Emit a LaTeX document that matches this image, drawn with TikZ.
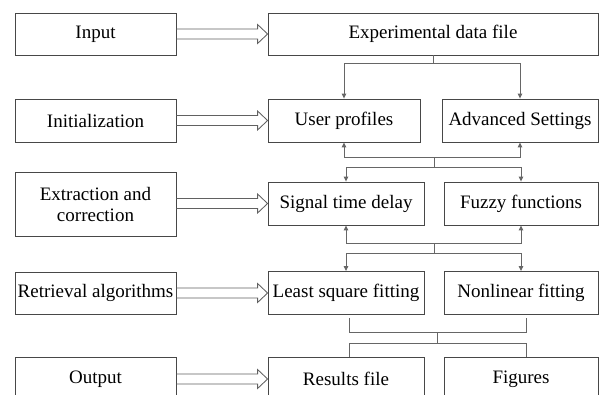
\documentclass[tikz,border=0pt]{standalone}
\usepackage{fontspec}
\setmainfont{Liberation Serif}
\usetikzlibrary{arrows.meta}
\tikzset{
  box/.style={draw=black!72,line width=0.85pt,inner sep=1pt,align=center,font=\fontsize{19}{21}\selectfont},
  dbl/.style={draw=black!62,line width=0.85pt,line join=miter},
  link/.style={draw=black!60,line width=0.9pt},
  tip/.style={link,-{Triangle[length=5pt,width=4.5pt]}}
}
\begin{document}
\begin{tikzpicture}[x=1pt,y=-1pt]
\useasboundingbox (0,0) rectangle (600,394);
\clip (0,0) rectangle (600,394);
% left column
\foreach \n/\y/\h/\t in {in/34/42/Input, ini/120.5/43/Initialization, ext/204/64/{Extraction and\\correction},
  ret/293/42/Retrieval algorithms, out/379/43/Output}{
  \node[box,minimum width=161pt,minimum height=\h pt] (\n) at (95.5,\y) {\t};
}
% right column
\node[box,minimum width=330pt,minimum height=42pt] (exp) at (433,34) {Experimental data file};
\foreach \n/\x/\y/\w/\t in {usr/344/120.5/152/User profiles, adv/520/120.5/156/Advanced Settings,
  sig/346/203.5/156/Signal time delay, fuz/521/203.5/154/Fuzzy functions,
  lsq/346/293/156/Least square fitting, nlf/521/293/154/Nonlinear fitting,
  res/346/379/156/Results file, fig/521/379/154/Figures}{
  \node[box,minimum width=\w pt,minimum height=43pt] (\n) at (\x,\y) {\t};
}
% double arrows
\foreach \a/\b in {in/exp, ini/usr, ext/sig, ret/lsq, out/res}
  \draw[dbl] ([yshift=5pt]\a.east |- \b.west) -- ([xshift=-10pt,yshift=5pt]\b.west)
    -- ([xshift=-10pt,yshift=9.5pt]\b.west) -- (\b.west) -- ([xshift=-10pt,yshift=-9.5pt]\b.west)
    -- ([xshift=-10pt,yshift=-5pt]\b.west) -- ([yshift=-5pt]\a.east |- \b.west);
% exp -> usr, adv
\draw[link] (exp.south) -- ++(0,8) coordinate (j1);
\draw[tip] (j1) -| (usr.north);
\draw[tip] (j1) -| (adv.north);
% usr, adv <-> sig, fuz
\path (usr.south) ++(90,15) coordinate (j2) ++(0,10) coordinate (j3);
\draw[link] (j2) -- (j3);
\draw[tip] (j2) -| (usr.south);
\draw[tip] (j2) -| (adv.south);
\draw[tip] (j3) -| (sig.north);
\draw[tip] (j3) -| (fuz.north);
% sig, fuz <-> lsq, nlf
\path (sig.south) ++(88,18) coordinate (j4) ++(0,10) coordinate (j5);
\draw[link] (j4) -- (j5);
\draw[tip] (j4) -| (sig.south);
\draw[tip] (j4) -| (fuz.south);
\draw[tip] (j5) -| (lsq.north);
\draw[tip] (j5) -| (nlf.north);
% lsq, nlf -- res, fig
\path (lsq.south) ++(91,18) coordinate (j6) ++(0,11) coordinate (j7);
\draw[link] (j6) -- (j7);
\draw[link] ([xshift=3pt,yshift=-3pt]lsq.south) |- (j6) -| ([xshift=5pt,yshift=-3pt]nlf.south);
\draw[link] (j7) -| ([xshift=3pt]res.north);
\draw[link] (j7) -| ([xshift=5pt]fig.north);
\end{tikzpicture}
\end{document}
